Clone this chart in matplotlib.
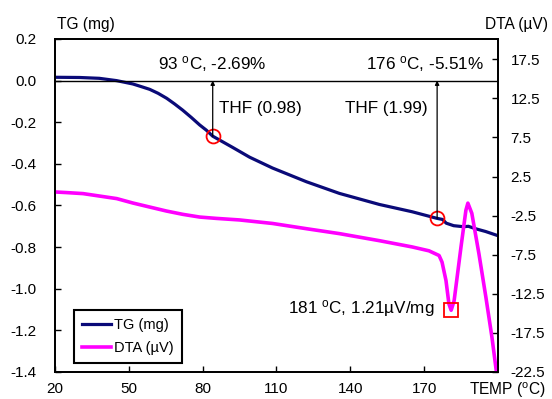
import matplotlib
matplotlib.use("Agg")
import matplotlib.pyplot as plt

plt.rcParams['font.family'] = ['Liberation Sans', 'DejaVu Sans']
plt.rcParams['mathtext.fontset'] = 'custom'
plt.rcParams['mathtext.rm'] = 'Liberation Sans'
plt.rcParams['mathtext.it'] = 'Liberation Sans:italic'
plt.rcParams['axes.unicode_minus'] = False

# TG curve (mg) vs temperature
tg_temp = [20, 30, 38, 45, 51.6, 55.1, 58.5, 61.9, 65.4, 68.6, 71.9, 75.4, 78.8, 81.5,
           84.1, 92.2, 99.1, 108.4, 122.2, 135.6, 151.8, 165.1, 175.3, 177.5, 179, 182,
           186, 188, 191, 195, 199.5]
tg_mass = [0.016, 0.015, 0.011, 0.0, -0.016, -0.029, -0.042, -0.061, -0.085, -0.112,
           -0.142, -0.177, -0.213, -0.238, -0.267, -0.321, -0.368, -0.42, -0.486, -0.542,
           -0.595, -0.63, -0.662, -0.667, -0.685, -0.697, -0.702, -0.700, -0.712, -0.725,
           -0.743]

# DTA curve (uV) vs temperature
dta_temp = [20, 24.7, 31.4, 45.1, 51.6, 58.5, 65.3, 71.9, 78.8, 85.5, 95, 108.4, 122.2,
            135.6, 151.8, 165.1, 172, 176.1, 177.3, 178.9, 180.1, 181, 182.2, 185, 187,
            187.8, 189.4, 192.3, 195.1, 197.6, 199.4]
dta_signal = [0.53, 0.45, 0.32, -0.32, -0.88, -1.4, -1.91, -2.33, -2.68, -2.85, -3.05,
              -3.5, -4.17, -4.8, -5.7, -6.5, -7.0, -7.6, -8.45, -10.8, -13.8, -14.6, -13.4,
              -6.5, -1.8, -0.9, -2.2, -7.4, -12.9, -18.1, -22.5]

# marked points
thf_temp = [84.1, 175.3]
thf_mass = [-0.267, -0.662]
thf_labels = ['THF (0.98)', 'THF (1.99)']
peak_temp = 180.8
peak_dta = -14.6

x_ticks = [20, 50, 80, 110, 140, 170]
tg_ticks = [0.2, 0.0, -0.2, -0.4, -0.6, -0.8, -1.0, -1.2, -1.4]
dta_ticks = [17.5, 12.5, 7.5, 2.5, -2.5, -7.5, -12.5, -17.5, -22.5]

fig = plt.figure(figsize=(5.52, 3.99), dpi=100)
ax = fig.add_axes([0.0996, 0.0677, 0.8024, 0.8346])
ax2 = ax.twinx()

tg_line, = ax.plot(tg_temp, tg_mass, color='#0a0a78', lw=2.3, label='TG (mg)')
dta_line, = ax2.plot(dta_temp, dta_signal, color='#ff00ff', lw=2.6, label='DTA (\u00b5V)')

ax.axhline(0, color='black', lw=1.0)

for t, m in zip(thf_temp, thf_mass):
    ax.annotate('', xy=(t, 0), xytext=(t, m),
                arrowprops=dict(arrowstyle='-|>', color='black', lw=0.9,
                                mutation_scale=6, shrinkA=0, shrinkB=0))
ax.plot(thf_temp, thf_mass, 'o', mfc='none', mec='red', ms=10, mew=1.3)
ax2.plot([peak_temp], [peak_dta], 's', mfc='none', mec='red', ms=9.5, mew=1.3)

ax.text(84.1, 0.08, r'93 $^{\rm o}$C, -2.69%', ha='center', va='center', fontsize=12.3)
ax.text(194.3, 0.08, r'176 $^{\rm o}$C, -5.51%', ha='right', va='center', fontsize=12.3)
ax.text(86.5, -0.134, thf_labels[0], ha='left', va='center', fontsize=12.3)
ax.text(171.6, -0.134, thf_labels[1], ha='right', va='center', fontsize=12.3)
ax.text(174.1, -1.096, '181 $^{\\rm o}$C, 1.21\u00b5V/mg', ha='right', va='center',
        fontsize=12.3)

ax.set_xlim(20, 200)
ax.set_ylim(-1.4, 0.2)
ax2.set_ylim(-22.5, 20.1)
ax.set_xticks(x_ticks)
ax.set_yticks(tg_ticks)
ax.set_yticklabels(['%.1f' % v for v in tg_ticks])
ax2.set_yticks(dta_ticks)
ax2.set_yticklabels(['%.1f' % v for v in dta_ticks])

ax.tick_params(axis='x', direction='in', length=4, width=1, labelsize=11, pad=7)
ax.tick_params(axis='y', direction='in', length=4, width=1, labelsize=11, pad=13)
ax2.tick_params(axis='y', direction='in', length=4, width=1, labelsize=11, pad=9)
for a in (ax, ax2):
    for s in a.spines.values():
        s.set_linewidth(1.3)

fig.text(57 / 552, 1 - 24 / 399, 'TG (mg)', ha='left', va='center', fontsize=11.2)
fig.text(548 / 552, 1 - 24 / 399, 'DTA (\u00b5V)', ha='right', va='center', fontsize=11.2)
fig.text(546 / 552, 1 - 390 / 399, r'TEMP ($^{\rm o}$C)', ha='right', va='center',
         fontsize=11.2)

leg = ax2.legend(handles=[tg_line, dta_line], loc='lower left',
                 bbox_to_anchor=(74 / 552, 1 - 363 / 399), bbox_transform=fig.transFigure,
                 borderaxespad=0, fancybox=False, edgecolor='black', framealpha=1,
                 fontsize=10.5, handlelength=2.0, handletextpad=0.2, labelspacing=0.6,
                 borderpad=0.55)
leg.get_frame().set_linewidth(1.5)

fig.savefig('out.png', dpi=100)
